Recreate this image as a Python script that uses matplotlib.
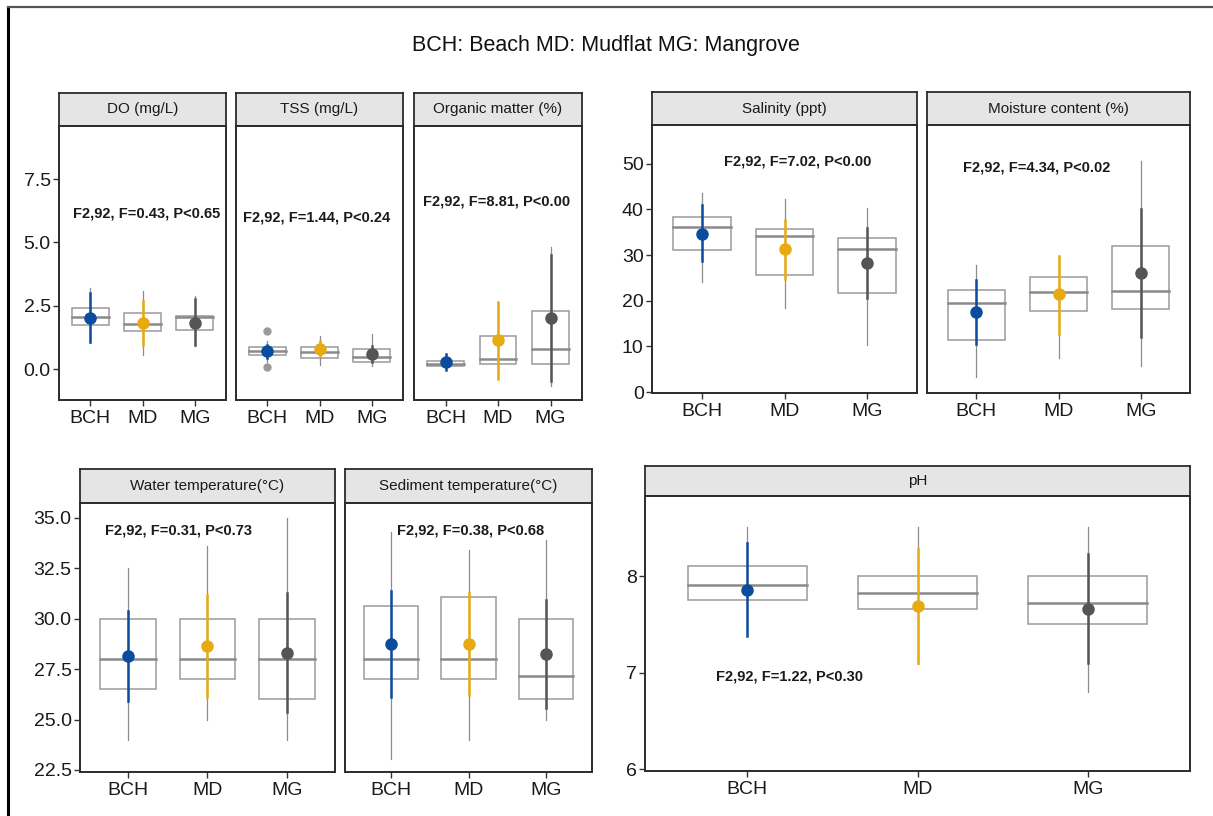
import numpy as np
import matplotlib
matplotlib.use('Agg')
import matplotlib.pyplot as plt
from matplotlib import font_manager
from matplotlib.patches import Rectangle
from matplotlib.lines import Line2D

# --- data: one entry per panel, each with BCH / MD / MG ---
SITES = ['BCH', 'MD', 'MG']
PANELS = ['DO (mg/L)', 'TSS (mg/L)', 'Organic matter (%)',
          'Salinity (ppt)', 'Moisture content (%)',
          'Water temperature(°C)', 'Sediment temperature(°C)', 'pH']

Q1 = [[1.75, 1.50, 1.55], [0.55, 0.45, 0.30], [0.14, 0.22, 0.20],
      [31.1, 25.6, 21.7], [11.4, 17.8, 18.1],
      [26.5, 27.0, 26.0], [27.0, 27.0, 26.0], [7.75, 7.66, 7.50]]
MEDIAN = [[2.05, 1.80, 2.05], [0.70, 0.67, 0.48], [0.22, 0.38, 0.80],
          [36.1, 34.2, 31.3], [19.6, 21.9, 22.1],
          [28.0, 28.0, 28.0], [28.0, 28.0, 27.15], [7.91, 7.82, 7.72]]
Q3 = [[2.40, 2.22, 2.10], [0.88, 0.88, 0.78], [0.33, 1.30, 2.29],
      [38.4, 35.8, 33.7], [22.3, 25.3, 32.1],
      [30.0, 30.0, 30.0], [30.65, 31.1, 30.0], [8.10, 8.00, 8.00]]
WHISK_LO = [[1.05, 0.55, 0.90], [0.30, 0.15, 0.12], [0.00, -0.38, -0.68],
            [24.1, 18.5, 10.4], [3.3, 7.5, 5.7],
            [24.0, 25.0, 24.0], [23.05, 24.0, 25.0], [7.38, 7.09, 6.80]]
WHISK_HI = [[3.20, 3.10, 2.90], [1.10, 1.32, 1.40], [0.60, 2.65, 4.82],
            [43.6, 42.2, 40.3], [27.9, 29.9, 50.6],
            [32.5, 33.6, 35.0], [34.3, 33.4, 33.9], [8.51, 8.51, 8.51]]
MEAN = [[2.03, 1.83, 1.83], [0.70, 0.79, 0.58], [0.30, 1.15, 2.03],
        [34.6, 31.3, 28.3], [17.6, 21.5, 26.0],
        [28.16, 28.63, 28.3], [28.75, 28.75, 28.25], [7.86, 7.69, 7.66]]
ERR_LO = [[1.07, 0.95, 0.95], [0.45, 0.50, 0.30], [-0.05, -0.38, -0.47],
          [28.8, 24.8, 20.5], [10.6, 12.8, 12.1],
          [25.9, 26.1, 25.4], [26.1, 26.2, 25.55], [7.38, 7.10, 7.10]]
ERR_HI = [[3.02, 2.70, 2.75], [0.95, 1.10, 0.90], [0.60, 2.65, 4.50],
          [41.0, 37.8, 35.9], [24.6, 29.8, 40.1],
          [30.4, 31.2, 31.3], [31.4, 31.3, 30.95], [8.34, 8.28, 8.23]]
OUTLIERS = {1: {0: [1.52, 0.10]}}   # TSS, BCH

ANOVA = ['F2,92, F=0.43, P<0.65', 'F2,92, F=1.44, P<0.24', 'F2,92, F=8.81, P<0.00',
         'F2,92, F=7.02, P<0.00', 'F2,92, F=4.34, P<0.02',
         'F2,92, F=0.31, P<0.73', 'F2,92, F=0.38, P<0.68', 'F2,92, F=1.22, P<0.30']
ANOVA_XY = [(2.08, 6.13), (1.95, 6.0), (1.98, 6.6),
            (2.16, 50.4), (1.73, 49.1),
            (1.63, 34.36), (2.03, 34.36), (1.25, 6.96)]

# --- layout (pixels) ---
W, H = 1213, 816
GROUPS = [
    dict(panels=[0, 1, 2], xs=[(59, 226), (236, 403), (414, 582)], strip=(93, 126), bottom=400,
         ylim=(-1.22, 9.6), yticks=[0.0, 2.5, 5.0, 7.5], fmt='{:.1f}'),
    dict(panels=[3, 4], xs=[(652, 917), (927, 1190)], strip=(92, 125), bottom=393,
         ylim=(-0.2, 58.5), yticks=[0, 10, 20, 30, 40, 50], fmt='{:d}'),
    dict(panels=[5, 6], xs=[(80, 335), (345, 592)], strip=(469, 503), bottom=772,
         ylim=(22.4, 35.74), yticks=[22.5, 25.0, 27.5, 30.0, 32.5, 35.0], fmt='{:.1f}'),
    dict(panels=[7], xs=[(645, 1190)], strip=(466, 496), bottom=771,
         ylim=(5.98, 8.83), yticks=[6, 7, 8], fmt='{:d}'),
]

COLORS = ['#0b4c9e', '#e8aa12', '#555555']
BOX_COL = '#9a9a9a'
MED_COL = '#8a8a8a'
FRAME = '#2b2b2b'

names = {f.name for f in font_manager.fontManager.ttflist}
NARROW = 'Liberation Sans Narrow' if 'Liberation Sans Narrow' in names else 'Liberation Sans'
plt.rcParams['font.family'] = ['Liberation Sans', 'DejaVu Sans']


def rect(x0, y0, x1, y1):
    return [x0 / W, 1 - y1 / H, (x1 - x0) / W, (y1 - y0) / H]


fig = plt.figure(figsize=(W / 100, H / 100), dpi=100)
fig.patch.set_facecolor('white')

# frame edges on the left and top
fig.add_artist(Line2D([8 / W, 8 / W], [0, 1 - 7 / H], transform=fig.transFigure, color='black', lw=2.2))
fig.add_artist(Line2D([8 / W, 1], [1 - 7 / H, 1 - 7 / H], transform=fig.transFigure, color='#555555', lw=1.6))

fig.text(606 / W, 1 - 46 / H, 'BCH: Beach MD: Mudflat MG: Mangrove',
         ha='center', va='center', fontsize=15.5, color='#111111')

for g in GROUPS:
    s0, s1 = g['strip']
    for k, (pi, (x0, x1)) in enumerate(zip(g['panels'], g['xs'])):
        # facet strip
        sax = fig.add_axes(rect(x0, s0, x1, s1))
        sax.set_facecolor('#e5e5e5')
        sax.set_xticks([])
        sax.set_yticks([])
        for sp in sax.spines.values():
            sp.set_color(FRAME)
            sp.set_linewidth(1.3)
        sax.text(0.5, 0.5, PANELS[pi], ha='center', va='center', fontsize=11,
                 family=[NARROW, 'DejaVu Sans'], color='#1a1a1a', transform=sax.transAxes)

        ax = fig.add_axes(rect(x0, s1, x1, g['bottom']))
        ax.set_xlim(0.4, 3.6)
        ax.set_ylim(*g['ylim'])
        for sp in ax.spines.values():
            sp.set_color(FRAME)
            sp.set_linewidth(1.4)

        for i in range(3):
            xc = i + 1
            ax.add_patch(Rectangle((xc - 0.35, Q1[pi][i]), 0.7, Q3[pi][i] - Q1[pi][i],
                                   facecolor='none', edgecolor=BOX_COL, lw=1.1, zorder=2))
            ax.plot([xc - 0.35, xc + 0.35], [MEDIAN[pi][i]] * 2, color=MED_COL, lw=1.8, zorder=2)
            ax.plot([xc, xc], [WHISK_LO[pi][i], WHISK_HI[pi][i]], color='#8c8c8c', lw=0.9, zorder=3)
            ax.plot([xc, xc], [ERR_LO[pi][i], ERR_HI[pi][i]], color=COLORS[i], lw=1.8, zorder=4)
            ax.plot(xc, MEAN[pi][i], 'o', color=COLORS[i], markersize=8, zorder=5)
            for yo in OUTLIERS.get(pi, {}).get(i, []):
                ax.plot(xc, yo, 'o', color='#9a9a9a', markersize=5, zorder=3)

        ax.text(*ANOVA_XY[pi], ANOVA[pi], ha='center', va='center', fontsize=10.5,
                fontweight='bold', family=[NARROW, 'DejaVu Sans'], color='#1a1a1a')

        ax.set_xticks([1, 2, 3])
        ax.set_xticklabels(SITES)
        ax.tick_params(axis='x', length=4, width=1.0, color='#333333', labelsize=14,
                       labelcolor='#1a1a1a', pad=3)
        ax.set_yticks(g['yticks'])
        if k == 0:
            ax.set_yticklabels([g['fmt'].format(v) for v in g['yticks']])
            ax.tick_params(axis='y', length=4, width=1.0, color='#333333', labelsize=14,
                           labelcolor='#1a1a1a', pad=2)
        else:
            ax.tick_params(axis='y', length=0, labelleft=False)

fig.savefig('out.png', dpi=100, facecolor='white')
